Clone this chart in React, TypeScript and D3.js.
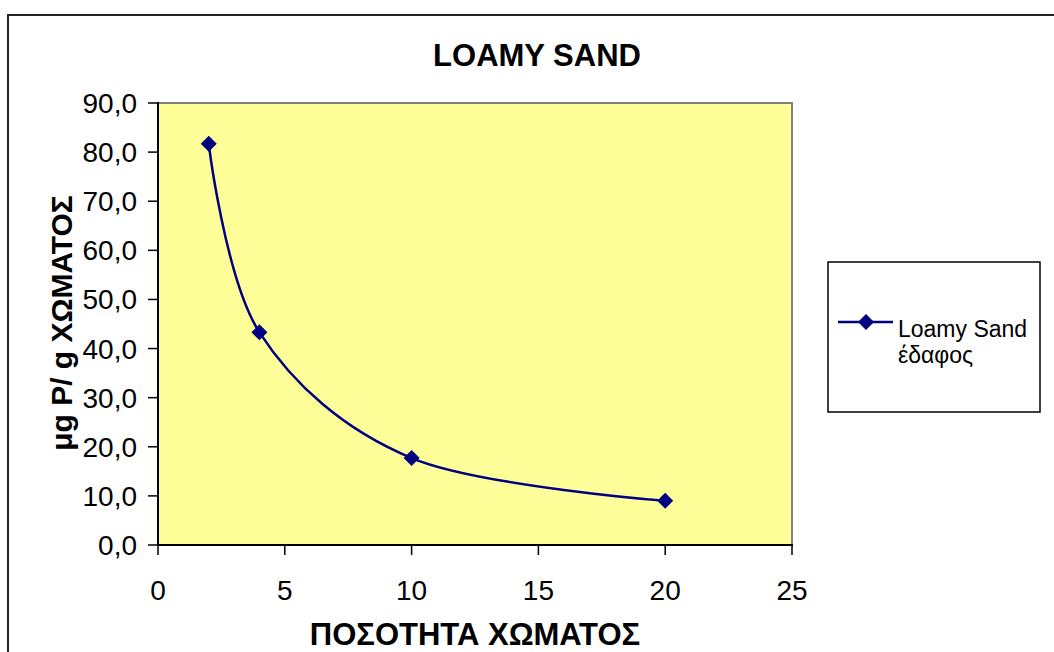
import React from "react";
import * as d3 from "d3";

const xValues = [2, 4, 10, 20];
const yValues = [81.7, 43.3, 17.7, 9.0];
const xTicks = [0, 5, 10, 15, 20, 25];
const yTicks = [0, 10, 20, 30, 40, 50, 60, 70, 80, 90];
const title = "LOAMY SAND";
const xTitle = "ΠΟΣΟΤΗΤΑ ΧΩΜΑΤΟΣ";
const yTitle = "μg P/ g ΧΩΜΑΤΟΣ";
const legendLines = ["Loamy Sand", "έδαφος"];

const W = 1054;
const H = 652;
const plot = { left: 158, top: 103, right: 792, bottom: 545 };
const navy = "#000080";
const font = "'Liberation Sans', Arial, sans-serif";

function Diamond({ x, y, r }: { x: number; y: number; r: number }) {
  return <path d={`M${x},${y - r}L${x + r},${y}L${x},${y + r}L${x - r},${y}Z`} fill={navy} />;
}

export default function App() {
  const x = d3.scaleLinear().domain([0, 25]).range([plot.left, plot.right]);
  const y = d3.scaleLinear().domain([0, 90]).range([plot.bottom, plot.top]);
  const pts: [number, number][] = xValues.map((v, i) => [x(v), y(yValues[i])]);
  const line = d3.line().curve(d3.curveCardinal.tension(0))(pts) || "";
  const fmt = (v: number) => v.toFixed(1).replace(".", ",");

  return (
    <svg width={W} height={H} style={{ position: "absolute", left: 0, top: 0, background: "#fff" }} fontFamily={font}>
      {/* outer chart border */}
      <path d={`M8,${H + 5}V15H${W + 5}`} fill="none" stroke="#222" strokeWidth={2} />
      {/* plot area */}
      <rect x={plot.left} y={plot.top} width={plot.right - plot.left} height={plot.bottom - plot.top} fill="#FFFF99" />
      <path d={`M${plot.left},${plot.top}H${plot.right}V${plot.bottom}`} fill="none" stroke="#808080" strokeWidth={2} />
      {/* axes */}
      <line x1={plot.left} x2={plot.left} y1={plot.top - 1} y2={plot.bottom + 1} stroke="#000" strokeWidth={2} />
      <line x1={plot.left - 1} x2={plot.right + 1} y1={plot.bottom} y2={plot.bottom} stroke="#000" strokeWidth={2} />
      {yTicks.map((t) => (
        <g key={"y" + t}>
          <line x1={plot.left - 10} x2={plot.left} y1={y(t)} y2={y(t)} stroke="#000" strokeWidth={1.5} />
          <text x={plot.left - 21} y={y(t) + 10} textAnchor="end" fontSize={28}>{fmt(t)}</text>
        </g>
      ))}
      {xTicks.map((t) => (
        <g key={"x" + t}>
          <line x1={x(t)} x2={x(t)} y1={plot.bottom} y2={plot.bottom + 10} stroke="#000" strokeWidth={1.5} />
          <text x={x(t)} y={plot.bottom + 55} textAnchor="middle" fontSize={28}>{t}</text>
        </g>
      ))}
      {/* series */}
      <path d={line} fill="none" stroke={navy} strokeWidth={2.5} />
      {pts.map(([px, py], i) => <Diamond key={i} x={px} y={py} r={8} />)}
      {/* titles */}
      <text x={537} y={66} textAnchor="middle" fontSize={31} fontWeight="bold">{title}</text>
      <text x={475} y={645} textAnchor="middle" fontSize={31} fontWeight="bold">{xTitle}</text>
      <text transform="translate(72,323) rotate(-90)" textAnchor="middle" fontSize={30} fontWeight="bold">{yTitle}</text>
      {/* legend */}
      <rect x={828} y={262} width={212} height={150} fill="#fff" stroke="#000" strokeWidth={1.5} />
      <line x1={838} x2={893} y1={322} y2={322} stroke={navy} strokeWidth={2.5} />
      <Diamond x={866} y={322} r={8} />
      <text x={898} y={337} fontSize={23}>{legendLines[0]}</text>
      <text x={898} y={363} fontSize={23}>{legendLines[1]}</text>
    </svg>
  );
}
